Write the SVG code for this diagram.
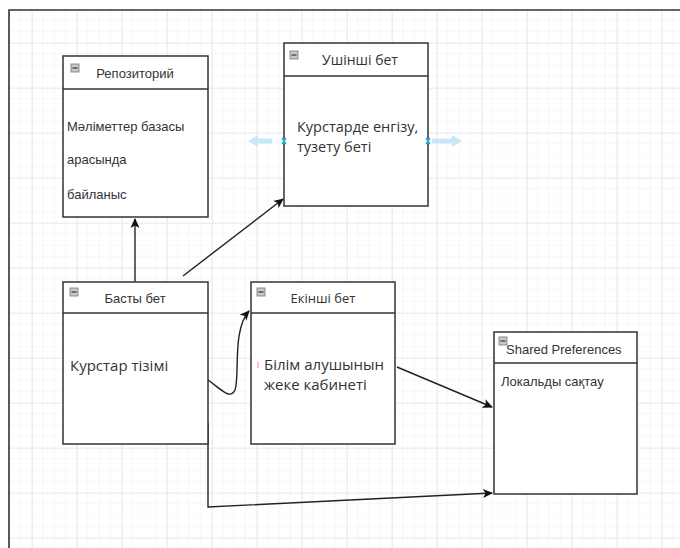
<svg xmlns="http://www.w3.org/2000/svg" width="680" height="548" viewBox="0 0 680 548">
<defs>
<pattern id="minor" x="32" y="43" width="11.25" height="11.25" patternUnits="userSpaceOnUse">
<path d="M11.25 0V11.25M0 11.25H11.25" fill="none" stroke="#efefef" stroke-width="1"/>
</pattern>
<pattern id="major" x="32" y="43" width="45" height="45" patternUnits="userSpaceOnUse">
<path d="M0 0V45M0 0H45" fill="none" stroke="#e2e2e2" stroke-width="1.2"/>
</pattern>
<marker id="arr" markerWidth="10" markerHeight="10" refX="9" refY="5" orient="auto" markerUnits="userSpaceOnUse">
<path d="M0 0.5L10 5L0 9.5L2.5 5Z" fill="#111"/>
</marker>
<g id="icon"><rect x="0" y="0" width="8" height="8" fill="#c8c8c8" stroke="#777" stroke-width="0.8"/><path d="M1.5 4H6.5" stroke="#333" stroke-width="1.2"/></g>
</defs>
<style>
.box{fill:#fff;stroke:#333;stroke-width:1.5}
.hdr{fill:none;stroke:#333;stroke-width:1.5}
.t13{font-family:"Liberation Sans",Arial,sans-serif;font-size:13px;fill:#333}
.tn{font-family:"Open Sans","Noto Sans",sans-serif;fill:#333}
.conn{fill:none;stroke:#222;stroke-width:1.4}
</style>
<rect x="0" y="0" width="680" height="548" fill="#fff"/>
<rect x="9" y="10" width="671" height="538" fill="url(#minor)"/>
<rect x="9" y="10" width="671" height="538" fill="url(#major)"/>
<path d="M9 548V10H680" fill="none" stroke="#333" stroke-width="1.6"/>

<g id="connectors">
<path class="conn" d="M135 282V219" marker-end="url(#arr)"/>
<path class="conn" d="M183 276L283 199" marker-end="url(#arr)"/>
<path class="conn" d="M208 380C222 390 230 400 235 390C240 376 232 330 249 311" marker-end="url(#arr)"/>
<path class="conn" d="M397 367L492 407" marker-end="url(#arr)"/>
<path class="conn" d="M208 423V507L492 493" marker-end="url(#arr)"/>
</g>

<g id="repository">
<rect class="box" x="63" y="56" width="145" height="161"/>
<path class="hdr" d="M63 89H208"/>
<use href="#icon" x="71" y="64"/>
<text class="t13" x="135" y="78" text-anchor="middle">Репозиторий</text>
<text class="t13" x="67" y="131">Мәліметтер базасы</text>
<text class="t13" x="67" y="164">арасында</text>
<text class="t13" x="67" y="199">байланыс</text>
</g>

<g id="ushinshi-bet">
<rect class="box" x="284" y="43" width="144" height="163"/>
<path class="hdr" d="M284 76H428"/>
<use href="#icon" x="290" y="51"/>
<text class="tn" x="360" y="65" font-size="14" text-anchor="middle">Ушінші бет</text>
<text class="tn" x="297" y="132" font-size="14.5">Курстарде енгізу,</text>
<text class="tn" x="297" y="152" font-size="14.5">тузету беті</text>
<path d="M272 141H256" stroke="#c9e8f5" stroke-width="5"/>
<path d="M248 141L258 135V147Z" fill="#c9e8f5"/>
<path d="M432 141H452" stroke="#c9e8f5" stroke-width="5"/>
<path d="M462 141L452 135V147Z" fill="#c9e8f5"/>
<path d="M282 138L286 144M286 138L282 144" stroke="#2bb3e0" stroke-width="1.6"/>
<path d="M426 138L430 144M430 138L426 144" stroke="#2bb3e0" stroke-width="1.6"/>
</g>

<g id="basty-bet">
<rect class="box" x="63" y="282" width="145" height="162"/>
<path class="hdr" d="M63 313H208"/>
<use href="#icon" x="70" y="288"/>
<text class="t13" x="135" y="303" text-anchor="middle">Басты бет</text>
<text class="tn" x="70" y="371" font-size="15">Курстар тізімі</text>
</g>

<g id="ekinshi-bet">
<rect class="box" x="251" y="282" width="144" height="162"/>
<path class="hdr" d="M251 313H395"/>
<use href="#icon" x="257" y="288"/>
<text class="tn" x="323" y="303" font-size="13" text-anchor="middle">Екінші бет</text>
<path d="M258 362V368" stroke="#e88" stroke-width="1"/>
<text class="tn" x="264" y="370" font-size="15">Білім алушынын</text>
<text class="tn" x="264" y="390" font-size="15">жеке кабинеті</text>
</g>

<g id="shared-preferences">
<rect class="box" x="494" y="332" width="143" height="162"/>
<path class="hdr" d="M494 363H637"/>
<use href="#icon" x="499" y="337"/>
<text class="t13" x="506" y="354" font-size="13.5">Shared Preferences</text>
<text class="t13" x="501" y="386">Локальды сақтау</text>
</g>
</svg>
